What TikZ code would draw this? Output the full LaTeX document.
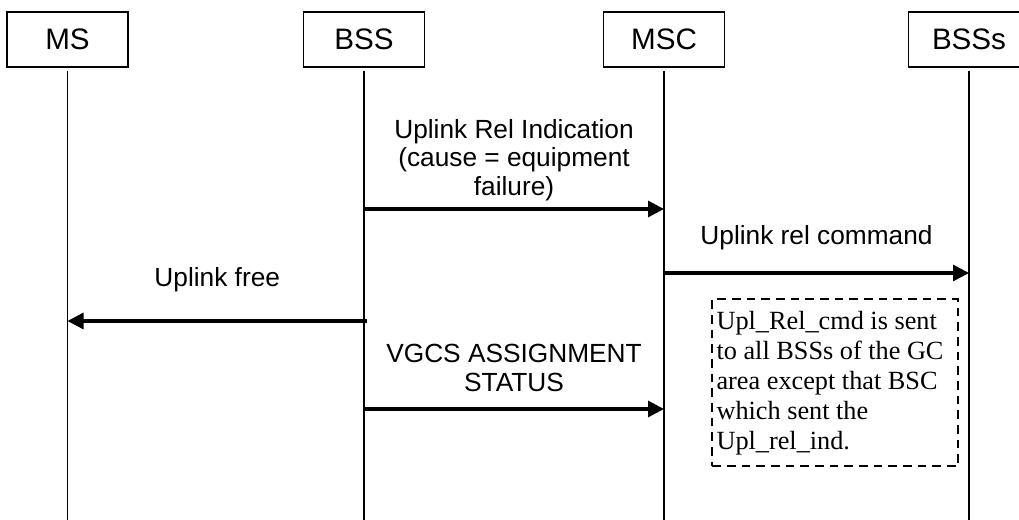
\documentclass[tikz,border=0pt]{standalone}
\usepackage{fontspec}
\setmainfont{Liberation Sans}
\newfontfamily\notefont{Liberation Serif}
\usetikzlibrary{arrows.meta}

\tikzset{
    entity/.style={draw, line width=1pt, minimum width=90.75pt, minimum height=41.25pt, inner sep=0pt,
        font=\fontsize{22.2}{24}\selectfont},
    lifeline/.style={line width=1pt},
    msg/.style={line width=2.3pt, -{Triangle[length=12pt,width=12pt]}},
    msglabel/.style={align=center, inner sep=0pt},
    notebox/.style={draw, line width=1.8pt, dash pattern=on 6.5pt off 4.5pt, align=flush left,
        text width=178pt, minimum width=184.5pt, minimum height=125.25pt,
        inner xsep=3.25pt, inner ysep=0pt,
        font=\notefont\fontsize{19.7}{22.5}\selectfont}
}

\begin{document}
\begin{tikzpicture}[x=0.75pt, y=-0.75pt, font=\fontsize{19.7}{21.5}\selectfont]
    \useasboundingbox (0,0) rectangle (1019,520);

    % Entities
    \node[entity] (ms)   at (67.5,39.5) {MS};
    \node[entity] (bss)  at (364,39.5)  {BSS};
    \node[entity] (msc)  at (664,39.5)  {MSC};
    \node[entity] (bsss) at (969,39.5)  {BSSs};

    % Lifelines
    \coordinate (bottom) at (0,520);
    \foreach \e in {ms,bss,msc,bsss} {
        \draw[lifeline] ([yshift=-2.25pt]\e.south) -- (\e |- bottom);
    }

    % Message rows
    \coordinate (row1) at (0,209);
    \coordinate (row2) at (0,273);
    \coordinate (row3) at (0,321);
    \coordinate (row4) at (0,409);

    % Uplink release indication
    \draw[msg] (bss |- row1) -- (msc |- row1)
        node[msglabel, midway, above=5pt] {Uplink Rel Indication\\(cause = equipment\\failure)};

    % Uplink release command
    \draw[msg] (msc |- row2) -- (bsss |- row2)
        node[msglabel, midway, above=16pt] {Uplink rel command};

    % Uplink free
    \draw[msg] ([xshift=2.25pt]bss |- row3) -- (ms |- row3)
        node[msglabel, midway, above=21pt] {Uplink free};

    % Assignment status
    \draw[msg] (bss |- row4) -- (msc |- row4)
        node[msglabel, midway, above=12pt] {VGCS ASSIGNMENT\\STATUS};

    % Note
    \node[notebox, anchor=north west] (note) at (711,298)
        {Upl\_Rel\_cmd is sent\\to all BSSs of the GC\\area except that BSC\\which sent the\\Upl\_rel\_ind.};
\end{tikzpicture}
\end{document}
